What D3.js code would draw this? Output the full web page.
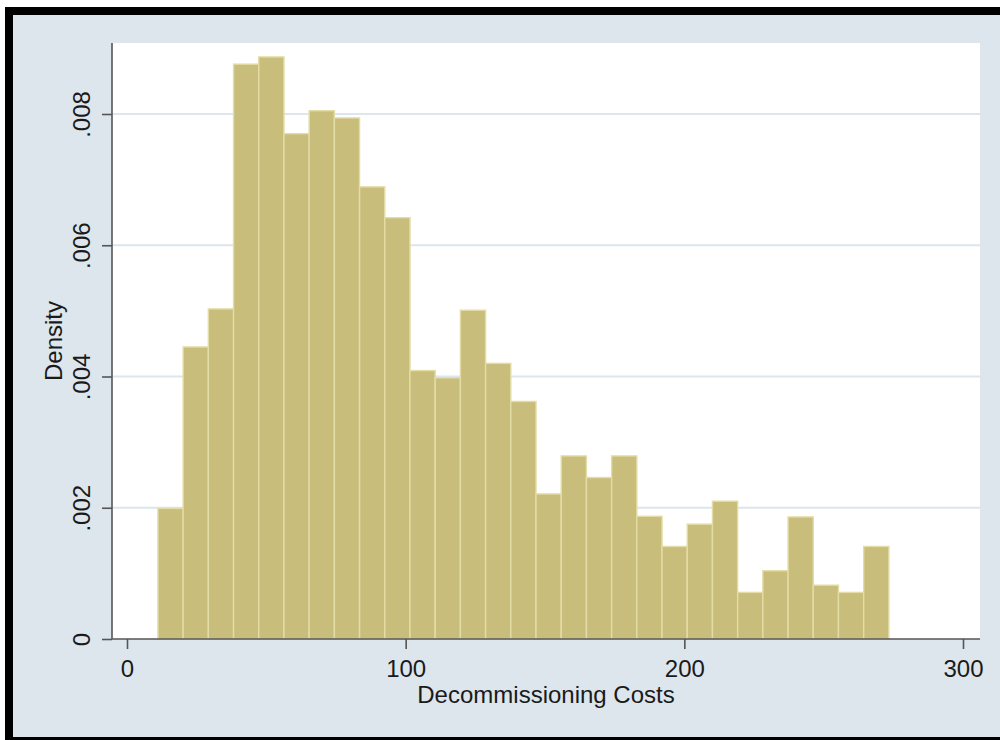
<!DOCTYPE html>
<html>
<head>
<meta charset="utf-8">
<script src="https://cdn.jsdelivr.net/npm/d3@7"></script>
<style>
  html, body { margin: 0; padding: 0; background: #ffffff; }
  svg { display: block; font-family: "Liberation Sans", Arial, Helvetica, sans-serif; }
</style>
</head>
<body>
<svg id="chart" width="1000" height="740"></svg>
<script>
// Histogram of decommissioning costs (density scale)
const firstBinStart = 11.1;   // lower edge of the first bin
const binWidth = 9.045;       // width of each bin
const density = [
  0.00199, 0.00445, 0.00503, 0.00876, 0.00887, 0.00770, 0.00805, 0.00794,
  0.00689, 0.00642, 0.00409, 0.00398, 0.00501, 0.00420, 0.00362, 0.00221,
  0.00279, 0.00246, 0.00279, 0.00187, 0.00141, 0.00175, 0.00210, 0.00071,
  0.00104, 0.00186, 0.00082, 0.00071, 0.00141
];
const xTicks = [0, 100, 200, 300];
const yTicks = [0, 0.002, 0.004, 0.006, 0.008];
const yTickLabels = ["0", ".002", ".004", ".006", ".008"];
const xTitle = "Decommissioning Costs";
const yTitle = "Density";

const svg = d3.select("#chart");

// outer frame and graph region
svg.append("rect").attr("x", 5).attr("y", 7).attr("width", 995).attr("height", 733).attr("fill", "#000");
svg.append("rect").attr("x", 13).attr("y", 15).attr("width", 987).attr("height", 722).attr("fill", "#dde6ec");

// plot region
const plot = { left: 112, right: 980, top: 43, bottom: 639 };
svg.append("rect")
  .attr("x", plot.left).attr("y", plot.top)
  .attr("width", plot.right - plot.left).attr("height", plot.bottom - plot.top)
  .attr("fill", "#ffffff");

const x = d3.scaleLinear().domain([0, 300]).range([127, 963]);
const y = d3.scaleLinear().domain([0, 0.008]).range([639, 114]);

// horizontal grid lines
svg.append("g").selectAll("line")
  .data(yTicks.filter(v => v > 0))
  .join("line")
  .attr("x1", plot.left).attr("x2", plot.right)
  .attr("y1", d => y(d)).attr("y2", d => y(d))
  .attr("stroke", "#dce6ed").attr("stroke-width", 2);

// bars
const bins = density.map((d, i) => ({
  x0: firstBinStart + i * binWidth,
  x1: firstBinStart + (i + 1) * binWidth,
  v: d
}));
svg.append("g").selectAll("rect")
  .data(bins)
  .join("rect")
  .attr("x", d => x(d.x0))
  .attr("width", d => x(d.x1) - x(d.x0))
  .attr("y", d => y(d.v))
  .attr("height", d => y(0) - y(d.v))
  .attr("fill", "#c8bd7b")
  .attr("stroke", "#e4dca6")
  .attr("stroke-width", 1.4);

// axes
const yAxis = d3.axisLeft(y).tickValues(yTicks).tickSize(10).tickFormat((d, i) => yTickLabels[i]);
const gy = svg.append("g").attr("transform", `translate(${plot.left},0)`).call(yAxis);
gy.select(".domain").remove();
gy.append("line").attr("x1", 0).attr("x2", 0).attr("y1", plot.top).attr("y2", plot.bottom)
  .attr("stroke", "#555").attr("stroke-width", 1.6);
gy.selectAll(".tick line").attr("stroke", "#555").attr("stroke-width", 1.6);
gy.selectAll(".tick text")
  .attr("x", 0).attr("dy", null).attr("y", 0)
  .attr("text-anchor", "middle")
  .attr("transform", "translate(-22,0) rotate(-90)")
  .attr("fill", "#1a1a1a").attr("font-size", 24)
  .attr("font-family", "Liberation Sans, Arial, sans-serif");

const xAxis = d3.axisBottom(x).tickValues(xTicks).tickSize(10).tickFormat(d3.format("d"));
const gx = svg.append("g").attr("transform", `translate(0,${plot.bottom})`).call(xAxis);
gx.select(".domain").remove();
gx.append("line").attr("x1", plot.left).attr("x2", plot.right).attr("y1", 0).attr("y2", 0)
  .attr("stroke", "#555").attr("stroke-width", 1.6);
gx.selectAll(".tick line").attr("stroke", "#555").attr("stroke-width", 1.6);
gx.selectAll(".tick text")
  .attr("y", 38).attr("dy", null)
  .attr("fill", "#1a1a1a").attr("font-size", 24)
  .attr("font-family", "Liberation Sans, Arial, sans-serif");

// axis titles
svg.append("text")
  .attr("x", (plot.left + plot.right) / 2).attr("y", 703)
  .attr("text-anchor", "middle").attr("font-size", 24).attr("fill", "#1a1a1a")
  .text(xTitle);
svg.append("text")
  .attr("transform", `translate(62,${(plot.top + plot.bottom) / 2}) rotate(-90)`)
  .attr("text-anchor", "middle").attr("font-size", 24).attr("fill", "#1a1a1a")
  .text(yTitle);
</script>
</body>
</html>
